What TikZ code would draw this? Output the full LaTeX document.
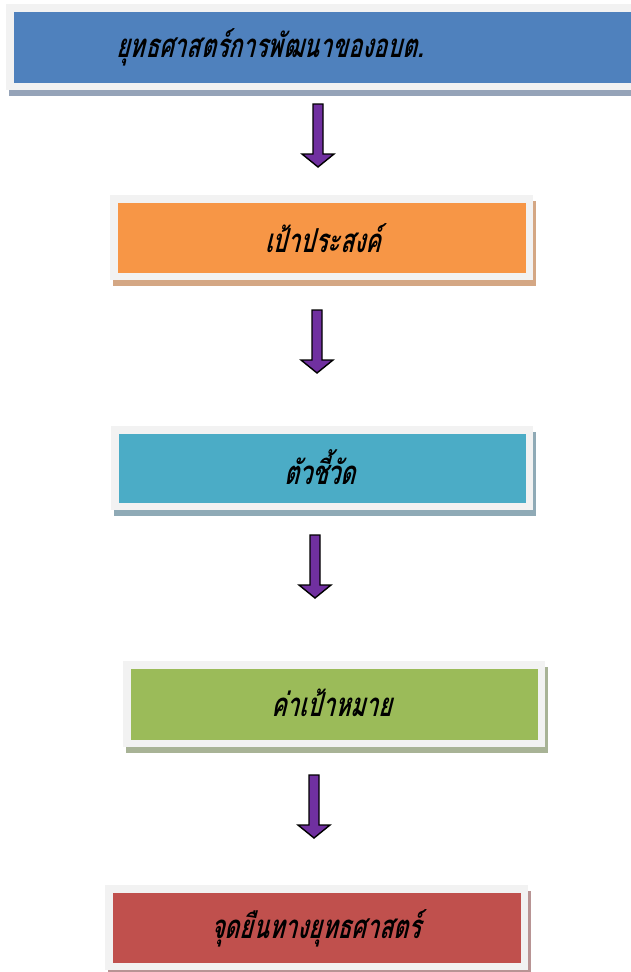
\documentclass[tikz,border=0pt]{standalone}
\usepackage{fontspec}
\newfontfamily\thaifont[Script=Thai,FakeSlant=0.25,FakeStretch=0.7]{Loma}
\definecolor{framegray}{HTML}{F2F2F2}
\definecolor{cblue}{HTML}{4F81BD}
\definecolor{corange}{HTML}{F79646}
\definecolor{cteal}{HTML}{4BACC6}
\definecolor{cgreen}{HTML}{9BBB59}
\definecolor{cred}{HTML}{C0504D}
\definecolor{sblue}{HTML}{95A3B8}
\definecolor{sorange}{HTML}{D4A784}
\definecolor{steal}{HTML}{8FAAB6}
\definecolor{sgreen}{HTML}{A8B396}
\definecolor{sred}{HTML}{B89494}
\definecolor{apurple}{HTML}{7030A0}
\newcommand\stagebox[9]{%
  \fill[#7] ({#2+3},{#3+6}) rectangle ({#4+3},{#5+6});
  \fill[framegray] (#2,#3) rectangle (#4,#5);
  \fill[#6] ({#2+7.5},{#3+7.5}) rectangle ({#4-7.5},{#5-7.5});
  \node[stagelabel] (#1) at (#8) {#9};
}
\newcommand\flowarrow[3]{%
  \coordinate (#1) at (#2,#3);
  \draw[blockarrow] (#1) ++(-5,0) -- ++(10,0) -- ++(0,50) -- ++(11,0)
    -- ++(-16,13) -- ++(-16,-13) -- ++(11,0) -- cycle;
}
\begin{document}
\begin{tikzpicture}[x=1pt,y=-1pt,
  stagelabel/.style={font=\thaifont\bfseries\fontsize{33}{36}\selectfont, text=black, inner sep=0pt},
  blockarrow/.style={fill=apurple, draw=black, line width=1.4pt, line join=miter}]
\useasboundingbox (0,0) rectangle (630,972);
\stagebox{s1}{6}{4}{645}{90}{cblue}{sblue}{270,47}{ยุทธศาสตร์การพัฒนาของอบต.}
\stagebox{s2}{110}{195}{533}{280}{corange}{sorange}{323,238}{เป้าประสงค์}
\stagebox{s3}{111}{426}{533}{510}{cteal}{steal}{320,467}{ตัวชี้วัด}
\stagebox{s4}{123}{661}{545}{747}{cgreen}{sgreen}{332,703}{ค่าเป้าหมาย}
\stagebox{s5}{105}{885}{528}{970}{cred}{sred}{316,928}{จุดยืนทางยุทธศาสตร์}
\flowarrow{a1}{318}{104}
\flowarrow{a2}{317}{310}
\flowarrow{a3}{315}{535}
\flowarrow{a4}{314}{775}
\end{tikzpicture}
\end{document}
